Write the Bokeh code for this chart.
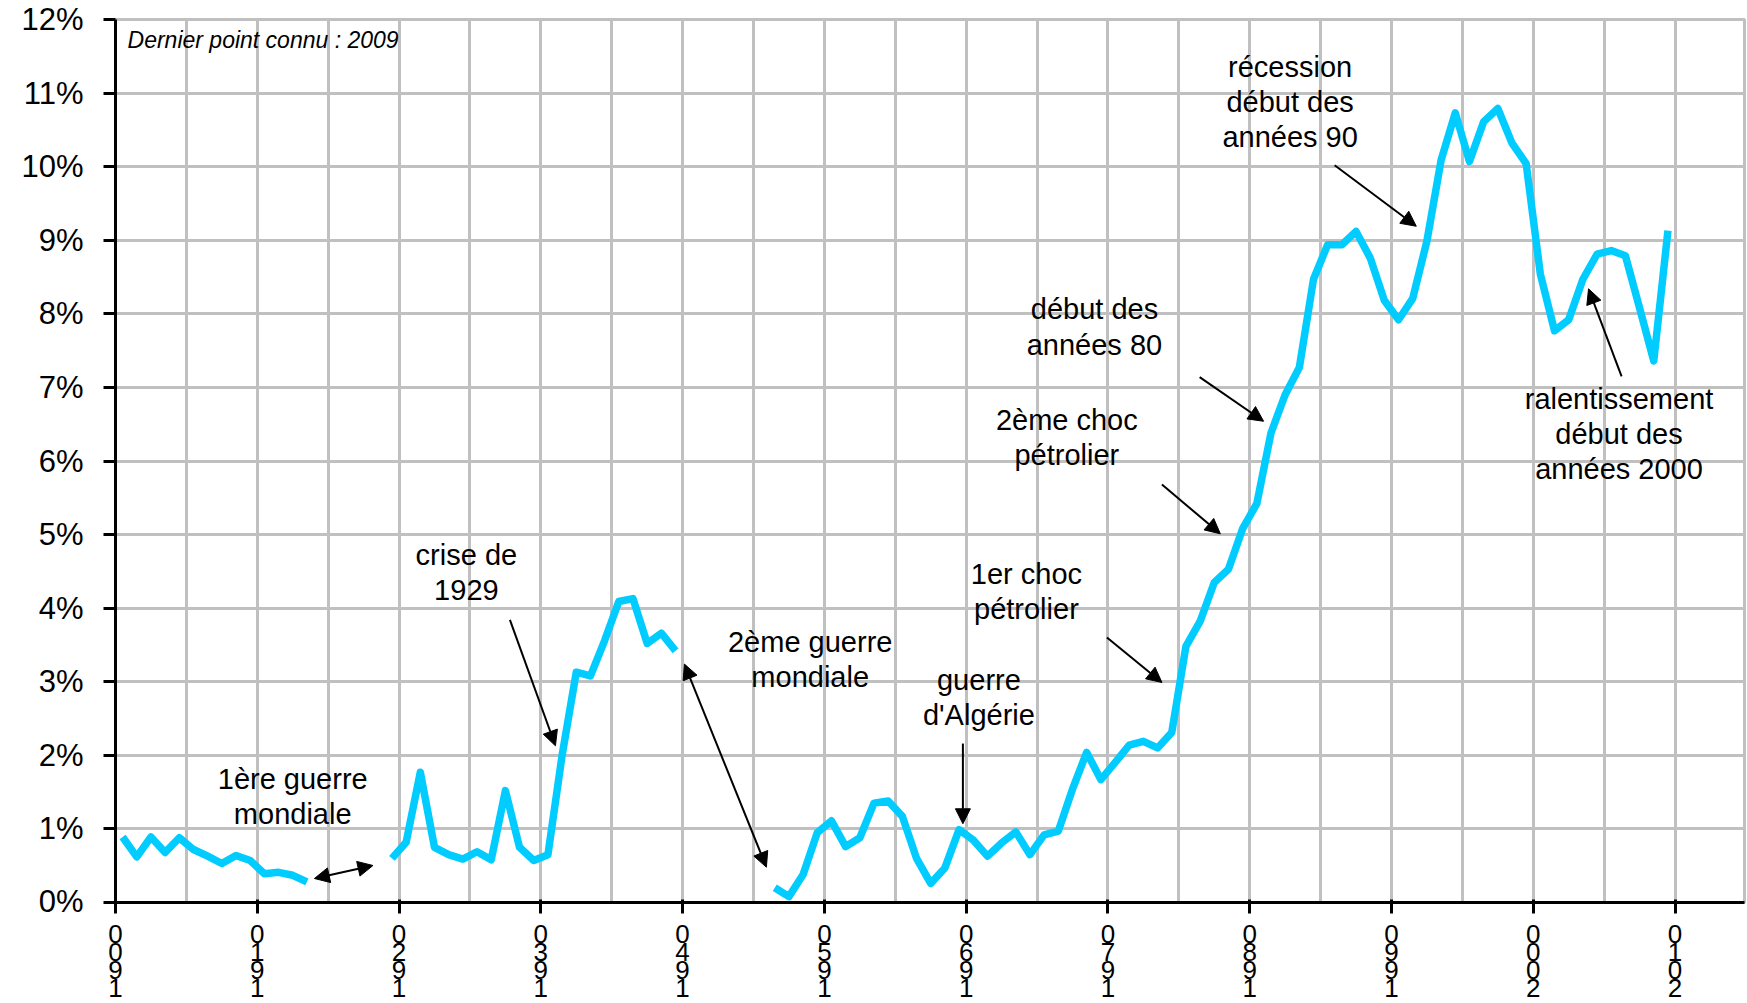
from bokeh.plotting import figure
from bokeh.models import Range1d, FixedTicker, Label, Arrow, NormalHead, ColumnDataSource
from bokeh.core.properties import value
from bokeh.embed import file_html
from bokeh.resources import INLINE

# ---- data (unemployment rate, %) ----
years_1 = list(range(1900, 1914))
rate_1 = [0.89, 0.62, 0.89, 0.68, 0.88, 0.72, 0.63, 0.53, 0.64, 0.57, 0.39, 0.41, 0.37, 0.28]

years_2 = list(range(1919, 1940))
rate_2 = [0.60, 0.82, 1.77, 0.75, 0.65, 0.59, 0.69, 0.58, 1.52, 0.75, 0.57, 0.65, 2.00,
          3.13, 3.08, 3.56, 4.09, 4.13, 3.52, 3.66, 3.42]

years_3 = list(range(1946, 2010))
rate_3 = [0.20, 0.08, 0.38, 0.95, 1.11, 0.76, 0.88, 1.35, 1.38, 1.17,
          0.60, 0.26, 0.47, 0.99, 0.85, 0.63, 0.81, 0.96, 0.65, 0.92,
          0.97, 1.54, 2.04, 1.67, 1.90, 2.14, 2.19, 2.10, 2.31, 3.48,
          3.82, 4.35, 4.53, 5.08, 5.42, 6.38, 6.90, 7.27, 8.47, 8.94,
          8.94, 9.12, 8.76, 8.18, 7.92, 8.21, 8.99, 10.09, 10.73, 10.07,
          10.61, 10.79, 10.32, 10.04, 8.54, 7.77, 7.92, 8.47, 8.81, 8.86,
          8.79, 8.08, 7.36, 9.13]

x_ticks = [1900, 1910, 1920, 1930, 1940, 1950, 1960, 1970, 1980, 1990, 2000, 2010]
x_tick_labels = ["0\n0\n9\n1", "0\n1\n9\n1", "0\n2\n9\n1", "0\n3\n9\n1", "0\n4\n9\n1",
                 "0\n5\n9\n1", "0\n6\n9\n1", "0\n7\n9\n1", "0\n8\n9\n1", "0\n9\n9\n1",
                 "0\n0\n0\n2", "0\n1\n0\n2"]
x_grid = [1900, 1905, 1910, 1915, 1920, 1925, 1930, 1935, 1940, 1945, 1950, 1955,
          1960, 1965, 1970, 1975, 1980, 1985, 1990, 1995, 2000, 2005, 2010]
y_ticks = [0, 1, 2, 3, 4, 5, 6, 7, 8, 9, 10, 11, 12]
y_tick_labels = ["0%", "1%", "2%", "3%", "4%", "5%", "6%", "7%", "8%", "9%", "10%", "11%", "12%"]

note_text = "Dernier point connu : 2009"

ann_text = ["1ère guerre\nmondiale", "crise de\n1929", "2ème guerre\nmondiale",
            "guerre\nd'Algérie", "1er choc\npétrolier", "2ème choc\npétrolier",
            "début des\nannées 80", "récession\ndébut des\nannées 90",
            "ralentissement\ndébut des\nannées 2000"]
ann_x = [1912.5, 1924.75, 1949.0, 1960.9, 1964.25, 1967.1, 1969.05, 1982.85, 2006.05]
ann_y = [1.44, 4.49, 3.30, 2.79, 4.23, 6.32, 7.82, 10.88, 6.37]

# arrows: start, end, double-headed?
arr_x0 = [1914.03, 1927.82, 1940.13, 1959.77, 1969.93, 1973.81, 1976.47, 1985.99, 2006.23]
arr_y0 = [0.326, 3.84, 3.24, 2.16, 3.60, 5.68, 7.14, 10.02, 7.15]
arr_x1 = [1918.16, 1931.03, 1945.91, 1959.77, 1973.81, 1977.93, 1980.98, 1991.75, 2003.90]
arr_y1 = [0.503, 2.13, 0.48, 1.07, 2.99, 5.01, 6.54, 9.19, 8.34]
arr_double = [True, False, True, False, False, False, False, False, False]

FONT = "Liberation Sans"
GRID = "#C0C0C0"
LINE = "#00CCFF"
W = 1747
BL, BR = 115, 3
X0, X1 = 1900, 2014.9

p = figure(width=W, height=918, output_backend="svg", toolbar_location=None,
           x_range=Range1d(X0, X1), y_range=Range1d(0, 12),
           min_border_left=BL, min_border_right=BR, min_border_top=19, min_border_bottom=16)
p.background_fill_color = "white"
p.border_fill_color = "white"
p.outline_line_color = GRID
p.outline_line_width = 3

# grids
p.xgrid.ticker = FixedTicker(ticks=x_grid)
p.xgrid.grid_line_color = GRID
p.xgrid.grid_line_width = 3
p.ygrid.ticker = FixedTicker(ticks=y_ticks)
p.ygrid.grid_line_color = GRID
p.ygrid.grid_line_width = 3

# x axis (year labels are drawn stacked in the strip below)
p.xaxis.ticker = FixedTicker(ticks=x_ticks)
p.xaxis.major_label_overrides = {t: "" for t in x_ticks}
p.xaxis.major_label_text_font_size = "1px"
p.xaxis.major_label_standoff = 0
p.xaxis.axis_line_color = "black"
p.xaxis.axis_line_width = 3
p.xaxis.major_tick_line_color = "black"
p.xaxis.major_tick_line_width = 3
p.xaxis.major_tick_out = 11
p.xaxis.major_tick_in = 3
p.xaxis.minor_tick_line_color = None

# y axis
p.yaxis.ticker = FixedTicker(ticks=y_ticks)
p.yaxis.major_label_overrides = {t: l for t, l in zip(y_ticks, y_tick_labels)}
p.yaxis.major_label_text_font = FONT
p.yaxis.major_label_text_font_size = "31px"
p.yaxis.major_label_text_color = "black"
p.yaxis.major_label_standoff = 20
p.yaxis.axis_line_color = "black"
p.yaxis.axis_line_width = 3
p.yaxis.major_tick_line_color = "black"
p.yaxis.major_tick_line_width = 3
p.yaxis.major_tick_out = 12
p.yaxis.major_tick_in = 0
p.yaxis.minor_tick_line_color = None

# data lines
for yrs, vals in ((years_1, rate_1), (years_2, rate_2), (years_3, rate_3)):
    p.line([y + 0.5 for y in yrs], vals, line_color=LINE, line_width=7.5, line_join="round")

# annotations
src = ColumnDataSource(dict(x=ann_x, y=ann_y, text=ann_text))
p.text(x="x", y="y", text="text", source=src, text_align="center", text_baseline="middle",
       text_font=value(FONT), text_font_size="29px", text_line_height=1.1, text_color="black")

for x0, y0, x1, y1, dbl in zip(arr_x0, arr_y0, arr_x1, arr_y1, arr_double):
    p.add_layout(Arrow(x_start=x0, y_start=y0, x_end=x1, y_end=y1,
                       line_color="black", line_width=2,
                       end=NormalHead(size=15, fill_color="black", line_color="black", line_width=1),
                       start=NormalHead(size=15, fill_color="black", line_color="black", line_width=1) if dbl else None))

p.add_layout(Label(x=1900.85, y=11.72, text=note_text, text_align="left", text_baseline="middle",
                   text_font=FONT, text_font_style="italic", text_font_size="23px", text_color="black"))

# ---- separate full-width strip with the stacked year labels, same x scale ----
STRIP_H = 85
px_per_year = (W - BL - BR) / (X1 - X0)
q = figure(width=W, height=STRIP_H, output_backend="svg", toolbar_location=None,
           x_range=Range1d(X0 - BL / px_per_year, X1 + BR / px_per_year),
           y_range=Range1d(STRIP_H, 0),
           x_axis_type=None, y_axis_type=None,
           min_border_left=0, min_border_right=0, min_border_top=0, min_border_bottom=0)
q.grid.visible = False
q.outline_line_color = None
q.background_fill_color = "white"
q.border_fill_color = "white"

cx, cy, ct = [], [], []
for t, lab in zip(x_ticks, x_tick_labels):
    for i, ch in enumerate(lab.split("\n")):
        cx.append(t)
        cy.append(15.5 + 18 * i)
        ct.append(ch)
q.text(x=cx, y=cy, text=ct, text_align="center", text_baseline="middle",
       text_font=value(FONT), text_font_size="26px", text_color="black")

open("out.html", "w").write(file_html([p, q], INLINE))
